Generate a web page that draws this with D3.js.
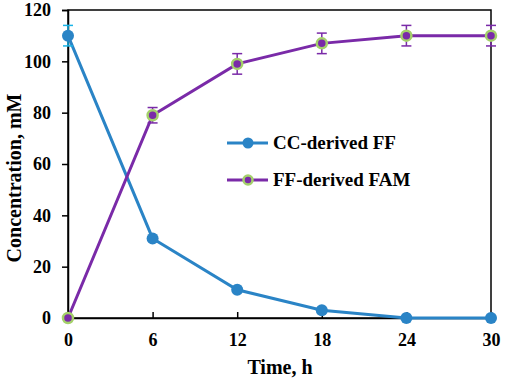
<!DOCTYPE html>
<html>
<head>
<meta charset="utf-8">
<script src="https://cdn.jsdelivr.net/npm/d3@7"></script>
<style>
  body { margin: 0; background: #fff; }
  text { font-family: "Liberation Serif", "Times New Roman", serif; font-weight: bold; }
</style>
</head>
<body>
<svg id="canvas" width="505" height="380"></svg>
<script>
// data
const timeH = [0, 6, 12, 18, 24, 30]
const ccFF = [110, 31, 11, 3, 0, 0]
const ccFFErr = [4, 0.5, 0.5, 0.5, 0, 0]
const ffFAM = [0, 79, 99, 107, 110, 110]
const ffFAMErr = [0, 3, 4, 4, 4, 4]
const xTicks = [0, 6, 12, 18, 24, 30]
const yTicks = [0, 20, 40, 60, 80, 100, 120]

const blue = '#2a84c6'
const purple = '#7a2aa8'
const green = '#a4d06a'

let svg = d3.select('#canvas')
let plotL = 68, plotR = 491, plotT = 10, plotB = 318

let x = d3.scaleLinear().domain([0, 30]).range([plotL, plotR])
let y = d3.scaleLinear().domain([0, 120]).range([plotB, plotT])

// frame
svg.append('rect')
    .attr('x', plotL).attr('y', plotT)
    .attr('width', plotR - plotL).attr('height', plotB - plotT)
    .attr('fill', 'none').attr('stroke', '#000').attr('stroke-width', 1.5)

// y axis, ticks outside
let yAxis = svg.append('g')
    .attr('transform', 'translate(' + plotL + ',0)')
    .call(d3.axisLeft(y).tickValues(yTicks).tickSize(6).tickPadding(11))
yAxis.select('.domain').attr('stroke-width', 1.5)
yAxis.selectAll('line').attr('stroke-width', 1.5)
yAxis.selectAll('text').attr('font-size', 18).attr('font-family', null)

// x axis, ticks inside
let xAxis = svg.append('g')
    .attr('transform', 'translate(0,' + plotB + ')')
    .call(d3.axisBottom(x).tickValues(xTicks).tickSize(-6).tickPadding(15))
xAxis.select('.domain').attr('stroke-width', 1.5)
xAxis.selectAll('line').attr('stroke-width', 1.5)
xAxis.selectAll('text').attr('font-size', 18).attr('font-family', null)

svg.append('text')
    .attr('x', 280).attr('y', 374)
    .attr('text-anchor', 'middle').attr('font-size', 20)
    .text('Time, h')

svg.append('text')
    .attr('transform', 'translate(21,178) rotate(-90)')
    .attr('text-anchor', 'middle').attr('font-size', 20)
    .text('Concentration, mM')

let line = d3.line()
    .x((d) => x(d[0]))
    .y((d) => y(d[1]))

let drawSeries = (vals, errs, color, errColor, stroke) => {
    let pts = timeH.map((t, i) => [t, vals[i], errs[i]])
    let g = svg.append('g')
    g.append('path')
        .datum(pts)
        .attr('d', line)
        .attr('fill', 'none')
        .attr('stroke', color)
        .attr('stroke-width', 3)
    let eb = g.selectAll('.err')
        .data(pts.filter((d) => d[2] > 0))
        .enter()
        .append('g')
    eb.append('line')
        .attr('x1', (d) => x(d[0])).attr('x2', (d) => x(d[0]))
        .attr('y1', (d) => y(d[1] + d[2])).attr('y2', (d) => y(d[1] - d[2]))
        .attr('stroke', errColor).attr('stroke-width', 1.5)
    eb.append('line')
        .attr('x1', (d) => x(d[0]) - 5).attr('x2', (d) => x(d[0]) + 5)
        .attr('y1', (d) => y(d[1] + d[2])).attr('y2', (d) => y(d[1] + d[2]))
        .attr('stroke', errColor).attr('stroke-width', 1.5)
    eb.append('line')
        .attr('x1', (d) => x(d[0]) - 5).attr('x2', (d) => x(d[0]) + 5)
        .attr('y1', (d) => y(d[1] - d[2])).attr('y2', (d) => y(d[1] - d[2]))
        .attr('stroke', errColor).attr('stroke-width', 1.5)
    g.selectAll('circle')
        .data(pts)
        .enter()
        .append('circle')
        .attr('cx', (d) => x(d[0]))
        .attr('cy', (d) => y(d[1]))
        .attr('r', stroke ? 5 : 6)
        .attr('fill', color)
        .attr('stroke', stroke || 'none')
        .attr('stroke-width', 2.5)
}

drawSeries(ccFF, ccFFErr, blue, '#19b4e8', null)
drawSeries(ffFAM, ffFAMErr, purple, purple, green)

// legend
let legend = [
    { name: 'CC-derived FF', color: blue, stroke: null },
    { name: 'FF-derived FAM', color: purple, stroke: green }
]
let lg = svg.selectAll('.legend')
    .data(legend)
    .enter()
    .append('g')
    .attr('transform', (d, i) => 'translate(227,' + (143 + i * 37) + ')')
lg.append('line')
    .attr('x1', 0).attr('x2', 41)
    .attr('stroke', (d) => d.color).attr('stroke-width', 3)
lg.append('circle')
    .attr('cx', 21).attr('r', (d) => d.stroke ? 4.5 : 5.5)
    .attr('fill', (d) => d.color)
    .attr('stroke', (d) => d.stroke || 'none').attr('stroke-width', 2.5)
lg.append('text')
    .attr('x', 46).attr('y', 6)
    .attr('font-size', 19)
    .text((d) => d.name)
</script>
</body>
</html>
